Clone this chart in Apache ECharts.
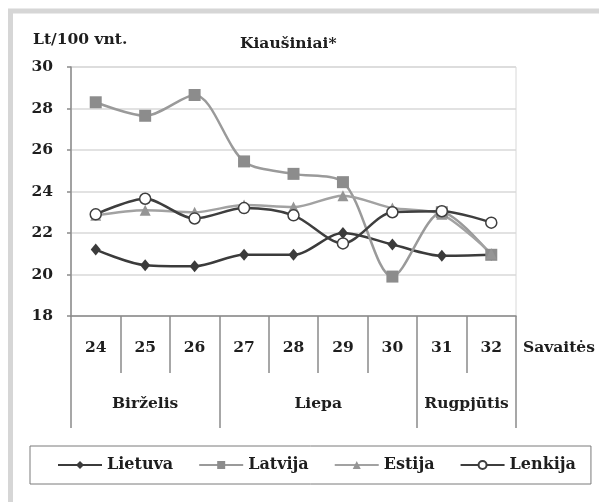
<!DOCTYPE html>
<html>
<head>
<meta charset="utf-8">
<script src="https://cdn.jsdelivr.net/npm/echarts@6/dist/echarts.min.js"></script>
<style>
html,body{margin:0;padding:0;background:#fff;}
#c{width:599px;height:502px;}
</style>
</head>
<body>
<div id="c"></div>
<script>
const weeks = ['24','25','26','27','28','29','30','31','32'];
const monthSlots = ['', '', '', 'Birželis', '', '', '', '', '', '', 'Liepa', '', '', '', '', '', 'Rugpjūtis', '', ''];
const monthBoundaries = [0, 6, 14, 18];
const lietuva = [21.2, 20.45, 20.4, 20.95, 20.95, 22.0, 21.45, 20.9, 20.95];
const latvija = [28.3, 27.65, 28.65, 25.45, 24.85, 24.45, 19.9, 23.0, 20.95];
const estija  = [22.85, 23.1, 23.0, 23.35, 23.25, 23.8, 23.2, 22.9, 21.0];
const lenkija = [22.9, 23.65, 22.7, 23.2, 22.85, 21.5, 23.0, 23.05, 22.5];
const yTicks = { min: 18, max: 30, interval: 2 };

const FONT = '"DejaVu Serif", "Liberation Serif", serif';
const txt = { fontFamily: FONT, fontWeight: 'bold', fontSize: 15.5, color: '#1e1e1e' };
const legTxt = { fontFamily: FONT, fontWeight: 'bold', fontSize: 16, color: '#1e1e1e' };

const chart = echarts.init(document.getElementById('c'), null, { renderer: 'canvas' });
chart.setOption({
  backgroundColor: '#fff',
  animation: false,
  graphic: [{
    type: 'rect', silent: true, z: -1,
    shape: { x: 10.5, y: 11, width: 640, height: 540 },
    style: { fill: 'none', stroke: '#d6d6d6', lineWidth: 5 }
  }],
  title: [
    { text: 'Lt/100 vnt.', left: 33, top: 32, padding: 0, textStyle: txt },
    { text: 'Kiaušiniai*', left: 240, top: 36, padding: 0, textStyle: txt },
    { text: 'Savaitės', left: 523, top: 340, padding: 0, textStyle: txt }
  ],
  legend: {
    left: 30, top: 446,
    padding: [11, 15, 11, 27],
    borderColor: '#7a7a7a', borderWidth: 1,
    itemWidth: 44, itemHeight: 10, itemGap: 25,
    textStyle: legTxt,
    data: ['Lietuva', 'Latvija', 'Estija', 'Lenkija']
  },
  grid: { left: 71, top: 67, width: 445, height: 249, show: true, borderColor: '#d8d8d8', borderWidth: 1, backgroundColor: '#fff' },
  xAxis: [{
    type: 'category', data: weeks, position: 'bottom', boundaryGap: true,
    axisLine: { lineStyle: { color: '#8a8a8a', width: 1.5 } },
    axisTick: { show: true, length: 57, lineStyle: { color: '#8a8a8a', width: 1.5 } },
    axisLabel: Object.assign({ margin: 24, interval: 0 }, txt),
    splitLine: { show: false }
  }, {
    type: 'category', data: monthSlots, position: 'bottom', boundaryGap: false,
    axisLine: { show: false },
    axisTick: { show: true, length: 112, lineStyle: { color: '#8a8a8a', width: 1.5 },
      interval: function (i) { return monthBoundaries.indexOf(i) >= 0; } },
    axisLabel: Object.assign({ margin: 80, interval: function (i, v) { return v !== ''; } }, txt),
    splitLine: { show: false }
  }],
  yAxis: {
    type: 'value', min: yTicks.min, max: yTicks.max, interval: yTicks.interval,
    axisLine: { show: true, lineStyle: { color: '#8a8a8a', width: 1.5 } },
    axisTick: { show: true, length: 4, lineStyle: { color: '#8a8a8a', width: 1.5 } },
    axisLabel: Object.assign({ margin: 18 }, txt),
    splitLine: { lineStyle: { color: '#d8d8d8', width: 1.5 } }
  },
  series: [
    { name: 'Lietuva', type: 'line', data: lietuva, smooth: 0.3, xAxisIndex: 0,
      symbol: 'diamond', symbolSize: [10, 12],
      lineStyle: { color: '#3b3b3b', width: 2.5 }, itemStyle: { color: '#3b3b3b' } },
    { name: 'Latvija', type: 'line', data: latvija, smooth: 0.3, xAxisIndex: 0,
      symbol: 'rect', symbolSize: 12,
      lineStyle: { color: '#9a9a9a', width: 2.5 }, itemStyle: { color: '#8c8c8c' } },
    { name: 'Estija', type: 'line', data: estija, smooth: 0.3, xAxisIndex: 0,
      symbol: 'triangle', symbolSize: 11,
      lineStyle: { color: '#a2a2a2', width: 2.5 }, itemStyle: { color: '#959595' } },
    { name: 'Lenkija', type: 'line', data: lenkija, smooth: 0.3, xAxisIndex: 0,
      symbol: 'circle', symbolSize: 11,
      lineStyle: { color: '#3e3e3e', width: 2.5 },
      itemStyle: { color: '#ffffff', borderColor: '#3e3e3e', borderWidth: 1.5 } }
  ]
});
</script>
</body>
</html>
